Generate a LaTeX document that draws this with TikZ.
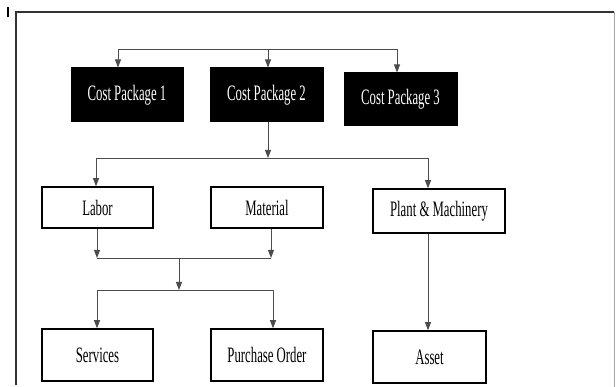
\documentclass[tikz,border=0pt]{standalone}
\usepackage{fontspec}
\setmainfont{Liberation Serif}
\newfontfamily\condfont[FakeStretch=0.58]{Liberation Serif}
\usetikzlibrary{arrows.meta}
\tikzset{
  blackbox/.style={draw=black,fill=black,text=white,line width=1pt,inner sep=0pt,font=\condfont\fontsize{22}{24}\selectfont},
  whitebox/.style={draw=black,fill=white,line width=1.5pt,inner sep=0pt,font=\condfont\fontsize{22}{24}\selectfont},
  conn/.style={draw=black!70,line width=0.9pt},
  arr/.style={conn,-{Triangle[length=8pt,width=6pt]}},
}
\begin{document}
\begin{tikzpicture}[x=1pt,y=-1pt]
\useasboundingbox (0,0) rectangle (616,387);
% frame
\draw[line width=1pt,black!35] (614,12) -- (614,387);
\draw[line width=1.4pt,black!80] (16,385) -- (16,12) -- (614,12);
\draw[line width=1.6pt] (8,7) -- (8,17);
% boxes
\node[blackbox,minimum width=112pt,minimum height=54pt] (cp1) at (127,95) {Cost Package 1};
\node[blackbox,minimum width=113pt,minimum height=54pt] (cp2) at (266.5,95) {Cost Package 2};
\node[blackbox,minimum width=113pt,minimum height=53pt] (cp3) at (400.5,99.5) {Cost Package 3};
\node[whitebox,minimum width=111pt,minimum height=41pt] (lab) at (97.5,207.5) {Labor};
\node[whitebox,minimum width=112pt,minimum height=41pt] (mat) at (267,207.5) {Material};
\node[whitebox,minimum width=132pt,minimum height=44pt] (pm) at (439,211) {Plant \& Machinery};
\node[whitebox,minimum width=111pt,minimum height=52pt] (ser) at (97.5,355) {Services};
\node[whitebox,minimum width=112pt,minimum height=52pt] (po) at (267,355) {Purchase Order};
\node[whitebox,minimum width=113pt,minimum height=52pt] (as) at (429.5,357) {Asset};
% coordinates
\coordinate (t1) at (118,49);
\coordinate (t2) at (268,49);
\coordinate (t3) at (397,49);
\coordinate (h1) at (96,158);
\coordinate (h2) at (268,158);
\coordinate (h3) at (428,158);
\coordinate (m1) at (97,258);
\coordinate (m2) at (179,258);
\coordinate (m3) at (271,258);
\coordinate (s1) at (97,290);
\coordinate (s2) at (179,290);
\coordinate (s3) at (273,290);
% top connectors
\draw[conn] (t1) -- (t3);
\draw[arr] (t1) -- (t1 |- cp1.north);
\draw[arr] (t2) -- (t2 |- cp2.north);
\draw[arr] (t3) -- (t3 |- cp3.north);
% cp2 to row 2
\draw[arr] (cp2.south -| h2) -- (h2);
\draw[conn] (h1) -- (h3);
\draw[arr] (h1) -- (h1 |- lab.north);
\draw[arr] (h3) -- (h3 |- pm.north);
% row 2 to merge
\draw[arr] (lab.south -| m1) -- (m1);
\draw[arr] (mat.south -| m3) -- (m3);
\draw[conn] (m1) -- (m3);
\draw[arr] (m2) -- (s2);
\draw[conn] (s1) -- (s3);
\draw[arr] (s1) -- (s1 |- ser.north);
\draw[arr] (s3) -- (s3 |- po.north);
% plant to asset
\draw[arr] (pm.south -| h3) -- (h3 |- as.north);
\end{tikzpicture}
\end{document}
